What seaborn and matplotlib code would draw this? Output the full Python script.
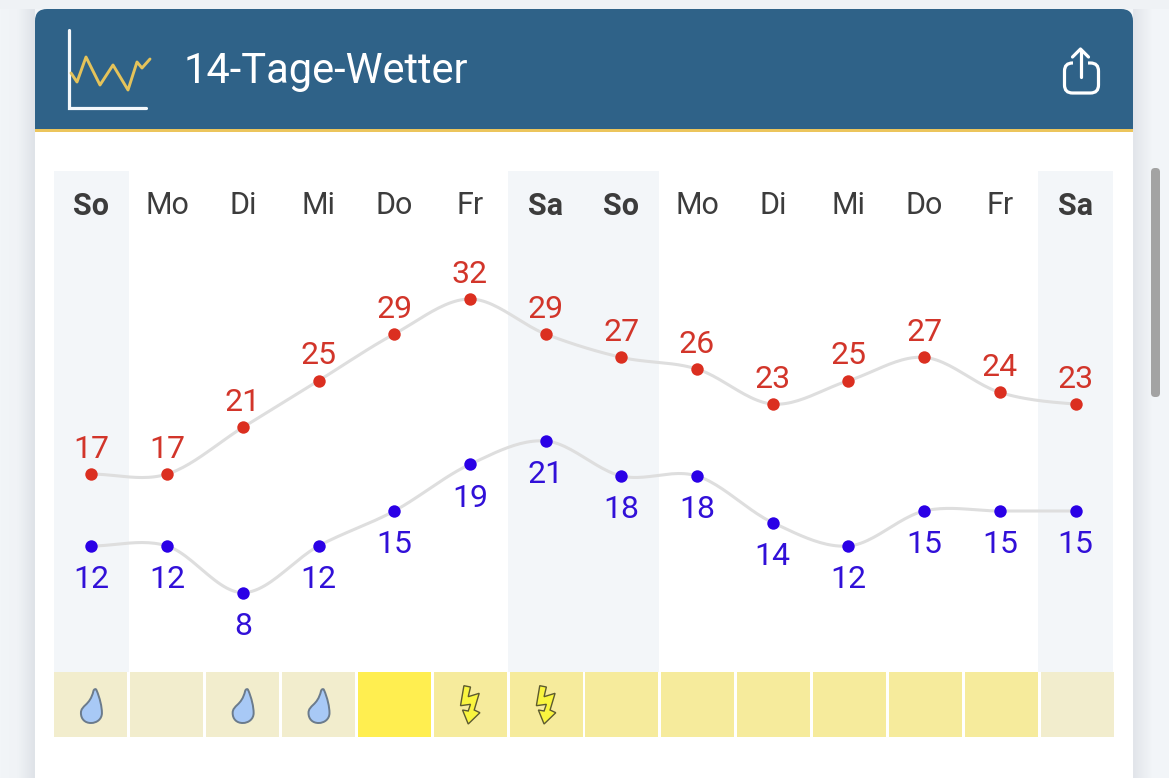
import numpy as np
import pandas as pd
import matplotlib
matplotlib.use("Agg")
import matplotlib.pyplot as plt
from matplotlib.colors import LinearSegmentedColormap
from matplotlib.patches import FancyBboxPatch, Rectangle, Polygon, PathPatch
from matplotlib.path import Path
from matplotlib.transforms import blended_transform_factory
import seaborn as sns

days = ["So", "Mo", "Di", "Mi", "Do", "Fr", "Sa", "So", "Mo", "Di", "Mi", "Do", "Fr", "Sa"]
highs = [17, 17, 21, 25, 29, 32, 29, 27, 26, 23, 25, 27, 24, 23]
lows = [12, 12, 8, 12, 15, 19, 21, 18, 18, 14, 12, 15, 15, 15]
weekend = [0, 6, 7, 13]
strip_colors = ["#f2edcd", "#f2edcd", "#f2edcd", "#f2edcd", "#ffee50", "#f6eb9c", "#f6eb9c",
                "#f6eb9c", "#f6eb9c", "#f6eb9c", "#f6eb9c", "#f6eb9c", "#f6eb9c", "#f2edcd"]
rain_days = [0, 2, 3]
storm_days = [5, 6]
title = "14-Tage-Wetter"

W, H = 1169, 778
sns.set_theme(style="white")
plt.rcParams["font.family"] = ["Roboto", "DejaVu Sans"]
fig = plt.figure(figsize=(W / 100, H / 100), dpi=100, facecolor="#f2f5f8")


def px_axes(x0, y0, x1, y1, **kw):
    return fig.add_axes([x0 / W, 1 - y1 / H, (x1 - x0) / W, (y1 - y0) / H], **kw)


# page chrome in pixel coordinates
bg = px_axes(0, 0, W, H)
bg.set_zorder(0)
bg.axis("off")
bg.imshow(np.linspace(0, 1, 35)[None, :], extent=(0, 35, H, 0), aspect="auto",
          cmap=LinearSegmentedColormap.from_list("s", ["#f2f5f8", "#f0f3f6", "#dfe3e8"]))
bg.imshow(np.linspace(1, 0, 20)[None, :], extent=(1133, 1153, H, 0), aspect="auto",
          cmap=LinearSegmentedColormap.from_list("s", ["#f2f5f8", "#e2e5ea"]))
bg.set_xlim(0, W)
bg.set_ylim(H, 0)
bg.add_patch(Rectangle((0, 0), W, 9, fc="#eff2f5", ec="none", zorder=1))
bg.add_patch(FancyBboxPatch((35, 9), 1098, 140, boxstyle="round,pad=0,rounding_size=12",
                            fc="#2f6288", ec="none", zorder=2))
bg.add_patch(Rectangle((35, 132), 1098, H, fc="white", ec="none", zorder=3))
bg.add_patch(Rectangle((35, 129), 1098, 3.2, fc="#ecc55c", ec="none", zorder=4))
bg.add_patch(FancyBboxPatch((1151, 168), 9, 229, boxstyle="round,pad=0,rounding_size=4",
                            fc="#a3a3a3", ec="none", zorder=4))

# chart icon
bg.plot([68.5, 68.5, 146], [30, 107.5, 107.5], color="#f4f8fb", lw=2.3, zorder=5, solid_joinstyle="miter")
bg.plot([71, 77, 86, 100, 113, 128, 137, 142, 150], [73, 82, 57, 85, 65, 90, 62, 68, 59],
        color="#e5c35a", lw=2.1, zorder=5)
# share icon
bg.add_patch(FancyBboxPatch((1064.5, 63), 34, 30, boxstyle="round,pad=0,rounding_size=8",
                            fc="none", ec="white", lw=2.3, zorder=5))
bg.add_patch(Rectangle((1073, 52), 15, 14, fc="#2f6288", ec="none", zorder=5.5))
bg.plot([1080.5, 1080.5], [50, 77], color="white", lw=2.3, zorder=6, solid_capstyle="round")
bg.plot([1072.5, 1080.5, 1088.5], [57, 49, 57], color="white", lw=2.3, zorder=6, solid_capstyle="round")
bg.text(183.5, 71.5, title, color="white", fontsize=30, va="center", ha="left", zorder=6)

# temperature chart: both series share x; each has its own offset y scale
ax = px_axes(53.6, 171, 1113.4, 672)
ax.set_zorder(1)
ax.patch.set_alpha(0)
ax.set_xlim(-0.5, 13.5)
ax.set_ylim(0.04, 42.97)
ax.axis("off")
ax_low = ax.twinx()
ax_low.set_ylim(1.2, 44.14)
ax_low.axis("off")

for d in weekend:
    ax.axvspan(d - 0.5, d + 0.5, color="#f3f6f9", lw=0, zorder=0)

x = np.arange(len(days))


def smooth(values, n=24, tension=1 / 6):
    """Cardinal spline through the values, sampled for drawing only."""
    v = np.asarray(values, float)
    m = np.zeros(len(v))
    m[1:-1] = (v[2:] - v[:-2]) * 3 * tension
    m[0] = (v[1] - v[0]) * 3 * tension
    m[-1] = (v[-1] - v[-2]) * 3 * tension
    t = np.linspace(0, 1, n, endpoint=False)
    xs, ys = [], []
    for i in range(len(v) - 1):
        h00 = 2 * t**3 - 3 * t**2 + 1
        h10 = t**3 - 2 * t**2 + t
        h01 = -2 * t**3 + 3 * t**2
        h11 = t**3 - t**2
        xs.append(i + t)
        ys.append(h00 * v[i] + h10 * m[i] + h01 * v[i + 1] + h11 * m[i + 1])
    return np.r_[np.concatenate(xs), len(v) - 1], np.r_[np.concatenate(ys), v[-1]]


for a, values, dot in ((ax, highs, "#db2f20"), (ax_low, lows, "#2a00e6")):
    cx, cy = smooth(values)
    sns.lineplot(x=cx, y=cy, ax=a, color="#dedede", lw=2.2, zorder=2, estimator=None, sort=False)
    df = pd.DataFrame({"x": x, "y": values})
    sns.scatterplot(data=df, x="x", y="y", ax=a, color=dot, s=80, linewidth=0, zorder=3, legend=False)
    a.set_xlabel("")
    a.set_ylabel("")
ax.set_xlim(-0.5, 13.5)
ax_low.set_xlim(-0.5, 13.5)

for i, v in enumerate(highs):
    ax.annotate(str(v), (i, v), xytext=(0, 7.5), textcoords="offset points", ha="center", va="bottom",
                fontsize=23, color="#d2352a", zorder=4)
for i, v in enumerate(lows):
    ax_low.annotate(str(v), (i, v), xytext=(0, -14), textcoords="offset points", ha="center", va="top",
                    fontsize=23, color="#3110d8", zorder=4)
day_tf = blended_transform_factory(ax.transData, bg.transData)
for i, d in enumerate(days):
    ax.text(i, 205.5, d, transform=day_tf, ha="center", va="center", fontsize=22, color="#3c3c3c",
            fontweight="bold" if i in weekend else "normal", zorder=4)

# weather strip
SX0, SX1 = 53, 1115
strip = px_axes(SX0, 672, SX1, 737)
strip.set_zorder(2)
strip.set_xlim(-0.5, 13.5)
strip.set_ylim(0, 1)
strip.axis("off")
strip.patch.set_alpha(0)
strip.bar(x, np.ones(len(x)), width=0.962, color=strip_colors, linewidth=0)

# icons: overlay in pixel y, with x in day units of the strip
icons = px_axes(SX0, 0, SX1, H)
icons.set_zorder(3)
icons.set_xlim(-0.5, 13.5)
icons.set_ylim(H, 0)
icons.axis("off")
icons.patch.set_alpha(0)
px = 14 / (SX1 - SX0)  # one pixel in day units

drop_verts = [(5.5, 690), (9, 698), (11, 707), (11, 713), (11, 719), (6, 723), (0, 723), (-6, 723),
              (-10, 719), (-10, 713), (-10, 705), (-1, 706), (2.5, 691), (3, 689), (5, 688.5), (5.5, 690)]
drop_codes = [Path.MOVETO] + [Path.CURVE4] * 15
bolt_pts = [(-6.3, 685.7), (0.3, 687), (-2, 696.7), (9, 693.3), (4, 710), (9.7, 712.7), (-2, 724),
            (-7.7, 710), (-2, 711), (0.3, 704.3), (-9.7, 705.7)]
for d in rain_days:
    icons.add_patch(PathPatch(Path([(d + p * px, q) for p, q in drop_verts], drop_codes),
                              fc="#a8c9f6", ec="#6b7b8c", lw=1.4))
for d in storm_days:
    icons.add_patch(Polygon([(d + p * px, q) for p, q in bolt_pts], closed=True,
                            fc="#f9f53f", ec="#5c5a30", lw=1.0))

fig.savefig("out.png", dpi=100, facecolor=fig.get_facecolor())
